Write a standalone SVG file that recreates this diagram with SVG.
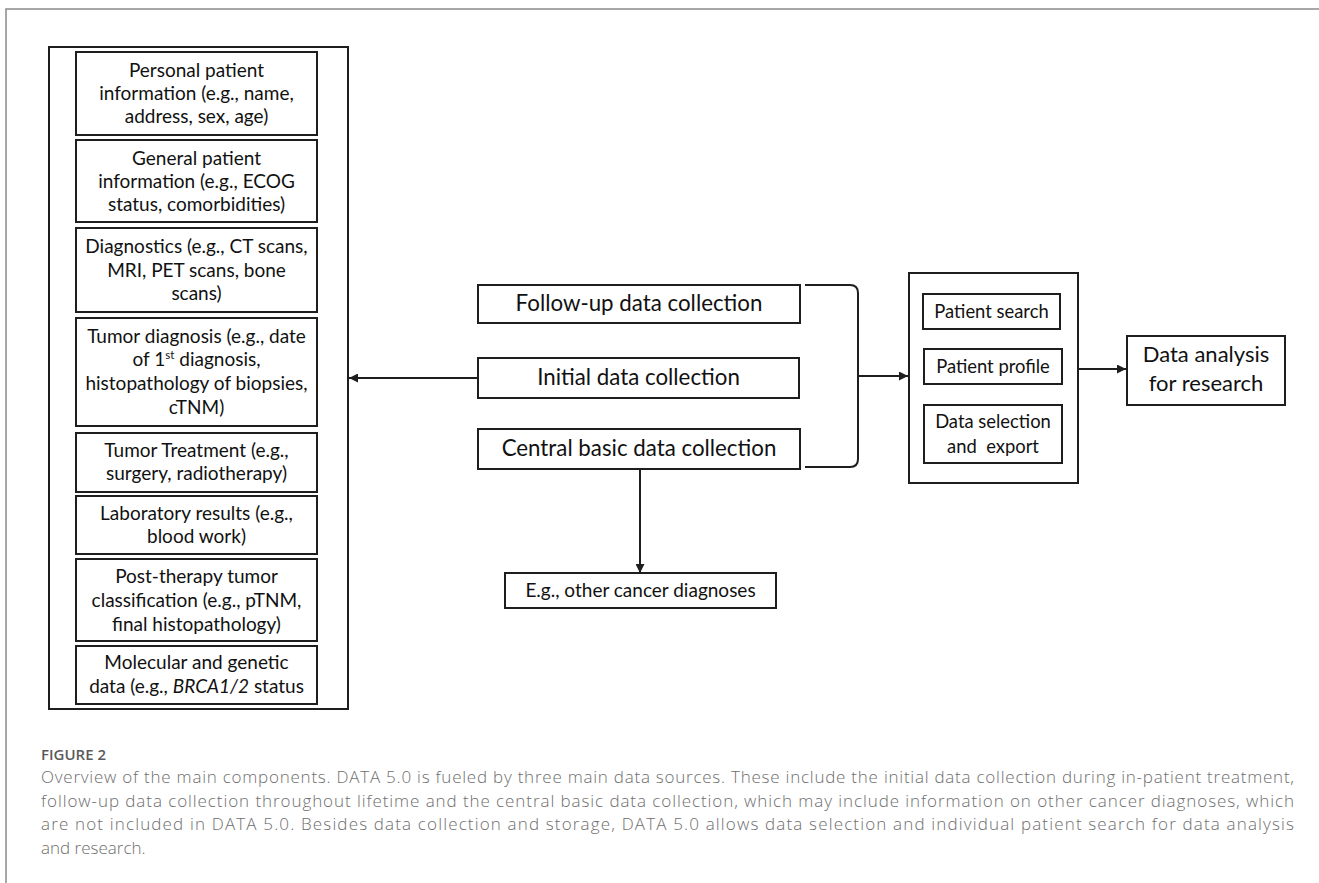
<svg xmlns="http://www.w3.org/2000/svg" width="1319" height="883" viewBox="0 0 1319 883">
<defs>
<style>
.box{fill:#fff;stroke:#1e1e1e;stroke-width:2}
.t{font-family:Lato,"Liberation Sans",sans-serif;fill:#111;text-anchor:middle}
.l{font-size:19px}
.m{font-size:22.3px}
.s{font-size:18.4px}
.e{font-size:19px}
.d{font-size:22px}
.conn{fill:none;stroke:#1e1e1e;stroke-width:2}
.cap{font-family:"Open Sans","Liberation Sans",sans-serif;fill:#6e6e6e;font-size:17px;font-weight:300}
</style>
<marker id="ah" viewBox="0 0 10 10" refX="10" refY="5" markerWidth="4.5" markerHeight="4.5" orient="auto" markerUnits="strokeWidth">
<path d="M0,0 L10,5 L0,10 z" fill="#1e1e1e"/>
</marker>
</defs>
<rect width="1319" height="883" fill="#fff"/>
<path d="M6,883 V9 H1319" fill="none" stroke="#8a8a8a" stroke-width="1.5"/>

<g id="left-container">
<rect class="box" x="49" y="47" width="299" height="662"/>
</g>
<g id="personal">
<rect class="box" x="76" y="52" width="241" height="83"/>
<text class="t l" x="196.5" y="77">Personal patient</text>
<text class="t l" x="196.5" y="100">information (e.g., name,</text>
<text class="t l" x="196.5" y="123">address, sex, age)</text>
</g>
<g id="general">
<rect class="box" x="76" y="140" width="241" height="82"/>
<text class="t l" x="196.5" y="165">General patient</text>
<text class="t l" x="196.5" y="188">information (e.g., ECOG</text>
<text class="t l" x="196.5" y="211">status, comorbidities)</text>
</g>
<g id="diagnostics">
<rect class="box" x="76" y="228" width="241" height="84"/>
<text class="t l" x="196.5" y="253">Diagnostics (e.g., CT scans,</text>
<text class="t l" x="196.5" y="277">MRI, PET scans, bone</text>
<text class="t l" x="196.5" y="300">scans)</text>
</g>
<g id="tumor-diagnosis">
<rect class="box" x="76" y="318" width="241" height="108"/>
<text class="t l" x="196.5" y="343">Tumor diagnosis (e.g., date</text>
<text class="t l" x="196.5" y="366">of 1<tspan font-size="11.5" dy="-7">st</tspan><tspan dy="7"> diagnosis,</tspan></text>
<text class="t l" x="196.5" y="390">histopathology of biopsies,</text>
<text class="t l" x="196.5" y="414">cTNM)</text>
</g>
<g id="tumor-treatment">
<rect class="box" x="76" y="433" width="241" height="59"/>
<text class="t l" x="196.5" y="457">Tumor Treatment (e.g.,</text>
<text class="t l" x="196.5" y="480">surgery, radiotherapy)</text>
</g>
<g id="laboratory">
<rect class="box" x="76" y="496" width="241" height="58"/>
<text class="t l" x="196.5" y="520">Laboratory results (e.g.,</text>
<text class="t l" x="196.5" y="543">blood work)</text>
</g>
<g id="post-therapy">
<rect class="box" x="76" y="559" width="241" height="82"/>
<text class="t l" x="196.5" y="583">Post-therapy tumor</text>
<text class="t l" x="196.5" y="607">classification (e.g., pTNM,</text>
<text class="t l" x="196.5" y="631">final histopathology)</text>
</g>
<g id="molecular">
<rect class="box" x="76" y="646" width="241" height="58"/>
<text class="t l" x="196.5" y="669">Molecular and genetic</text>
<text class="t l" x="196.5" y="693">data (e.g., <tspan font-style="italic">BRCA1/2</tspan> status</text>
</g>

<g id="follow-up">
<rect class="box" x="478" y="285" width="322" height="38"/>
<text class="t m" x="639" y="311">Follow-up data collection</text>
</g>
<g id="initial">
<rect class="box" x="478" y="358" width="321" height="40"/>
<text class="t m" x="638.5" y="385">Initial data collection</text>
</g>
<g id="central">
<rect class="box" x="478" y="429" width="322" height="40"/>
<text class="t m" x="639" y="456">Central basic data collection</text>
</g>
<g id="other-cancer">
<rect class="box" x="505" y="573" width="271" height="35"/>
<text class="t e" x="640.5" y="597">E.g., other cancer diagnoses</text>
</g>

<g id="tools">
<rect class="box" x="909" y="273" width="169" height="210"/>
</g>
<g id="patient-search">
<rect class="box" x="923" y="294" width="137" height="35"/>
<text class="t s" x="991.5" y="318">Patient search</text>
</g>
<g id="patient-profile">
<rect class="box" x="924" y="349" width="138" height="35"/>
<text class="t s" x="993" y="373">Patient profile</text>
</g>
<g id="data-selection">
<rect class="box" x="924" y="405" width="138" height="58"/>
<text class="t s" x="993" y="428">Data selection</text>
<text class="t s" x="993" y="453" xml:space="preserve">and  export</text>
</g>
<g id="data-analysis">
<rect class="box" x="1127" y="336" width="158" height="69"/>
<text class="t d" x="1206" y="362">Data analysis</text>
<text class="t d" x="1206" y="391">for research</text>
</g>

<g id="connectors">
<path class="conn" d="M478,378 H349" marker-end="url(#ah)"/>
<path class="conn" d="M805,285 H850 Q858,285 858,293 V459 Q858,467 850,467 H805"/>
<path class="conn" d="M858,376 H908" marker-end="url(#ah)"/>
<path class="conn" d="M640,469 V573" marker-end="url(#ah)"/>
<path class="conn" d="M1078,369 H1126" marker-end="url(#ah)"/>
</g>

<g id="caption">
<text x="41" y="760" font-family="'Open Sans','Liberation Sans',sans-serif" font-size="15" font-weight="600" fill="#5a5a5a">FIGURE 2</text>
<text class="cap" x="41" y="783" textLength="1253" lengthAdjust="spacing">Overview of the main components. DATA 5.0 is fueled by three main data sources. These include the initial data collection during in-patient treatment,</text>
<text class="cap" x="41" y="807" textLength="1253" lengthAdjust="spacing">follow-up data collection throughout lifetime and the central basic data collection, which may include information on other cancer diagnoses, which</text>
<text class="cap" x="41" y="830" textLength="1253" lengthAdjust="spacing">are not included in DATA 5.0. Besides data collection and storage, DATA 5.0 allows data selection and individual patient search for data analysis</text>
<text class="cap" x="41" y="854">and research.</text>
</g>
</svg>
